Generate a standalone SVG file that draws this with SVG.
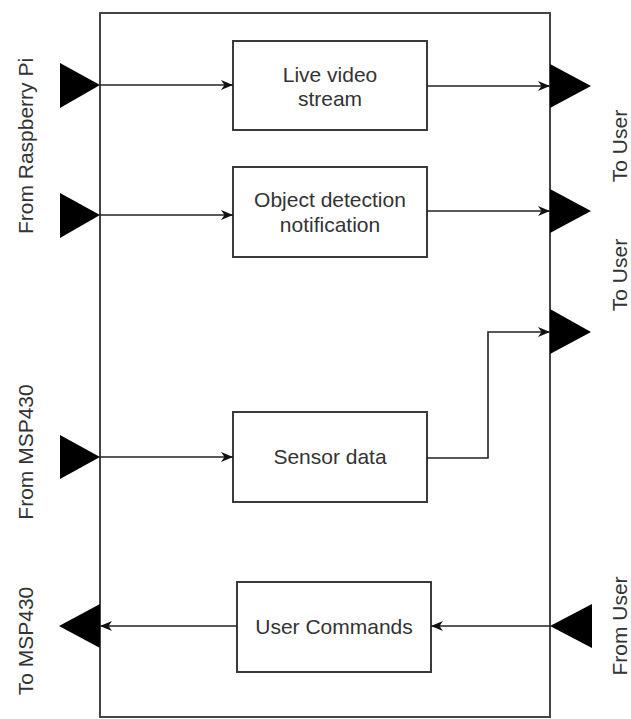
<svg xmlns="http://www.w3.org/2000/svg" width="631" height="719" viewBox="0 0 631 719">
<style>
.frame{fill:#ffffff;stroke:#444444;stroke-width:2}
.box{fill:#ffffff;stroke:#3a3a3a;stroke-width:2}
.tri{fill:#000000;stroke:none}
.edge{fill:none;stroke:#222222;stroke-width:1.6}
.t{font-family:"Liberation Sans",Arial,sans-serif;font-size:21px;fill:#333333;text-anchor:middle}
.lbl{font-family:"Liberation Sans",Arial,sans-serif;font-size:21px;fill:#333333;text-anchor:middle;dominant-baseline:central}
</style>
<defs>
<marker id="arr" markerUnits="userSpaceOnUse" markerWidth="14" markerHeight="12" viewBox="0 0 14 12" refX="13" refY="6" orient="auto">
<path d="M1,1 L13,6 L1,11 L4.5,6 Z" fill="#111111"/>
</marker>
</defs>
<rect width="631" height="719" fill="#ffffff"/>
<g id="frame">
<rect class="frame" x="100" y="13" width="450" height="704"/>
</g>
<g id="ports">
<polygon class="tri" points="60,63 100,85 60,108"/>
<polygon class="tri" points="60,193 100,215 60,238"/>
<polygon class="tri" points="60,435 100,457 60,479"/>
<polygon class="tri" points="100,604 59,626 100,648"/>
<polygon class="tri" points="550,64 591,86 550,108"/>
<polygon class="tri" points="550,189 591,211 550,233"/>
<polygon class="tri" points="550,309 591,332 550,354"/>
<polygon class="tri" points="592,604 550,626 592,648"/>
</g>
<g id="node-live">
<rect class="box" x="233" y="41" width="194" height="89"/>
<text class="t" x="330" y="81.5">Live video</text>
<text class="t" x="330" y="106">stream</text>
</g>
<g id="node-object">
<rect class="box" x="233" y="167" width="194" height="90"/>
<text class="t" x="330" y="207">Object detection</text>
<text class="t" x="330" y="232">notification</text>
</g>
<g id="node-sensor">
<rect class="box" x="233" y="412" width="194" height="90"/>
<text class="t" x="330" y="464">Sensor data</text>
</g>
<g id="node-commands">
<rect class="box" x="237" y="582" width="194" height="90"/>
<text class="t" x="334" y="634">User Commands</text>
</g>
<g id="connectors">
<path class="edge" d="M100,85 L233,85" marker-end="url(#arr)"/>
<path class="edge" d="M100,215 L233,215" marker-end="url(#arr)"/>
<path class="edge" d="M427,86 L550,86" marker-end="url(#arr)"/>
<path class="edge" d="M427,211 L550,211" marker-end="url(#arr)"/>
<path class="edge" d="M100,457 L233,457" marker-end="url(#arr)"/>
<path class="edge" d="M427,458 L488,458 L488,332 L550,332" marker-end="url(#arr)"/>
<path class="edge" d="M550,626 L431,626" marker-end="url(#arr)"/>
<path class="edge" d="M237,626 L100,626" marker-end="url(#arr)"/>
</g>
<g id="labels">
<text class="lbl" transform="translate(25,146) rotate(-90)">From Raspberry Pi</text>
<text class="lbl" transform="translate(25,452) rotate(-90)">From MSP430</text>
<text class="lbl" transform="translate(25,641) rotate(-90)">To MSP430</text>
<text class="lbl" transform="translate(619,146) rotate(-90)">To User</text>
<text class="lbl" transform="translate(619,275) rotate(-90)">To User</text>
<text class="lbl" transform="translate(619,626) rotate(-90)">From User</text>
</g>
</svg>
